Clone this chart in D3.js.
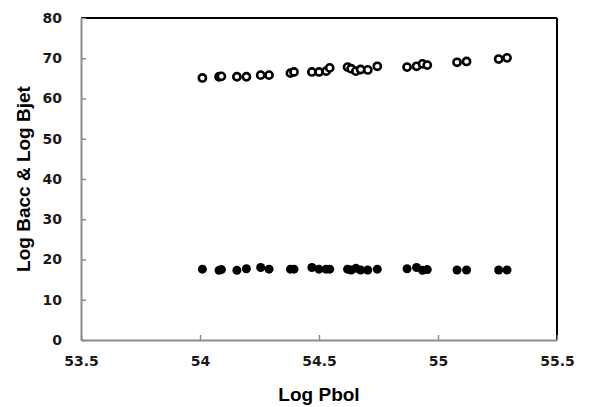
<!DOCTYPE html>
<html>
<head>
<meta charset="utf-8">
<script src="https://cdn.jsdelivr.net/npm/d3@7"></script>
<style>
  body { margin: 0; background: #fff; }
  text { font-family: "Liberation Sans", Arial, sans-serif; font-weight: bold; }
</style>
</head>
<body>
<div id="chart-area"></div>
<script>
// Data
const logPbol = [54.01, 54.08, 54.09, 54.155, 54.195, 54.255, 54.29, 54.38, 54.395, 54.47, 54.50, 54.53, 54.545,
  54.62, 54.635, 54.655, 54.675, 54.705, 54.745, 54.87, 54.91, 54.935, 54.955, 55.08, 55.12, 55.255, 55.29];
const logBjet = [65.1, 65.4, 65.5, 65.4, 65.4, 65.8, 65.8, 66.3, 66.6, 66.6, 66.6, 66.8, 67.6,
  67.8, 67.4, 66.8, 67.2, 67.1, 68.0, 67.8, 68.0, 68.6, 68.3, 69.0, 69.2, 69.8, 70.1];
const logBacc = [17.6, 17.3, 17.5, 17.3, 17.7, 18.0, 17.6, 17.6, 17.6, 18.0, 17.6, 17.6, 17.6,
  17.6, 17.4, 17.8, 17.4, 17.4, 17.6, 17.7, 18.0, 17.3, 17.5, 17.4, 17.4, 17.4, 17.4];
const xTicks = [53.5, 54, 54.5, 55, 55.5];
const yTicks = [0, 10, 20, 30, 40, 50, 60, 70, 80];

const margin = { left: 81, right: 34, top: 18, bottom: 67 };
const width = 591 - margin.left - margin.right;
const height = 407 - margin.top - margin.bottom;

const svg = d3.select('#chart-area')
  .append('svg')
    .attr('width', 591)
    .attr('height', 407);

const g = svg.append('g')
  .attr('transform', 'translate(' + margin.left + ', ' + margin.top + ')');

const x = d3.scaleLinear().domain([53.5, 55.5]).range([0, width]);
const y = d3.scaleLinear().domain([0, 80]).range([height, 0]);

// top and right frame
g.append('line').attr('x1', 0).attr('x2', width).attr('y1', 0).attr('y2', 0)
  .attr('stroke', '#000').attr('stroke-width', 2);
g.append('line').attr('x1', width).attr('x2', width).attr('y1', 0).attr('y2', height)
  .attr('stroke', '#000').attr('stroke-width', 2);

const tickFont = '"DejaVu Sans", Verdana, sans-serif';

// X axis
const xAxis = g.append('g')
  .attr('transform', 'translate(0, ' + height + ')')
  .call(d3.axisBottom(x).tickValues(xTicks).tickSizeInner(-5).tickSizeOuter(0).tickPadding(16)
    .tickFormat(d3.format('')));
xAxis.select('.domain').attr('stroke', '#8c8c8c').attr('stroke-width', 2);
xAxis.selectAll('.tick line').attr('stroke', '#8c8c8c').attr('stroke-width', 1.5);
xAxis.selectAll('.tick text')
  .style('font-size', '14px').style('font-weight', 'bold').style('font-family', tickFont)
  .attr('fill', '#1a1a1a');

// Y axis
const yAxis = g.append('g')
  .call(d3.axisLeft(y).tickValues(yTicks).tickSizeInner(-5).tickSizeOuter(0).tickPadding(19));
yAxis.select('.domain').attr('stroke', '#8c8c8c').attr('stroke-width', 2);
yAxis.selectAll('.tick line').attr('stroke', '#8c8c8c').attr('stroke-width', 1.5);
yAxis.selectAll('.tick text')
  .style('font-size', '14px').style('font-weight', 'bold').style('font-family', tickFont)
  .attr('fill', '#1a1a1a');

// Axis titles
g.append('text')
  .attr('x', width / 2)
  .attr('y', height + 61)
  .style('font-size', '19px')
  .attr('text-anchor', 'middle')
  .text('Log Pbol');

g.append('text')
  .attr('transform', 'rotate(-90)')
  .attr('x', -(height / 2))
  .attr('y', -51)
  .style('font-size', '19px')
  .attr('text-anchor', 'middle')
  .text('Log Bacc & Log Bjet');

// Log Bacc: filled dots
g.selectAll('circle.acc')
  .data(logPbol)
  .enter().append('circle')
    .attr('class', 'acc')
    .attr('cx', d => x(d))
    .attr('cy', (d, i) => y(logBacc[i]))
    .attr('r', 4.5)
    .attr('fill', '#000');

// Log Bjet: open circles
g.selectAll('circle.jet')
  .data(logPbol)
  .enter().append('circle')
    .attr('class', 'jet')
    .attr('cx', d => x(d))
    .attr('cy', (d, i) => y(logBjet[i]))
    .attr('r', 3.6)
    .attr('fill', '#fff')
    .attr('stroke', '#000')
    .attr('stroke-width', 2.6);
</script>
</body>
</html>
